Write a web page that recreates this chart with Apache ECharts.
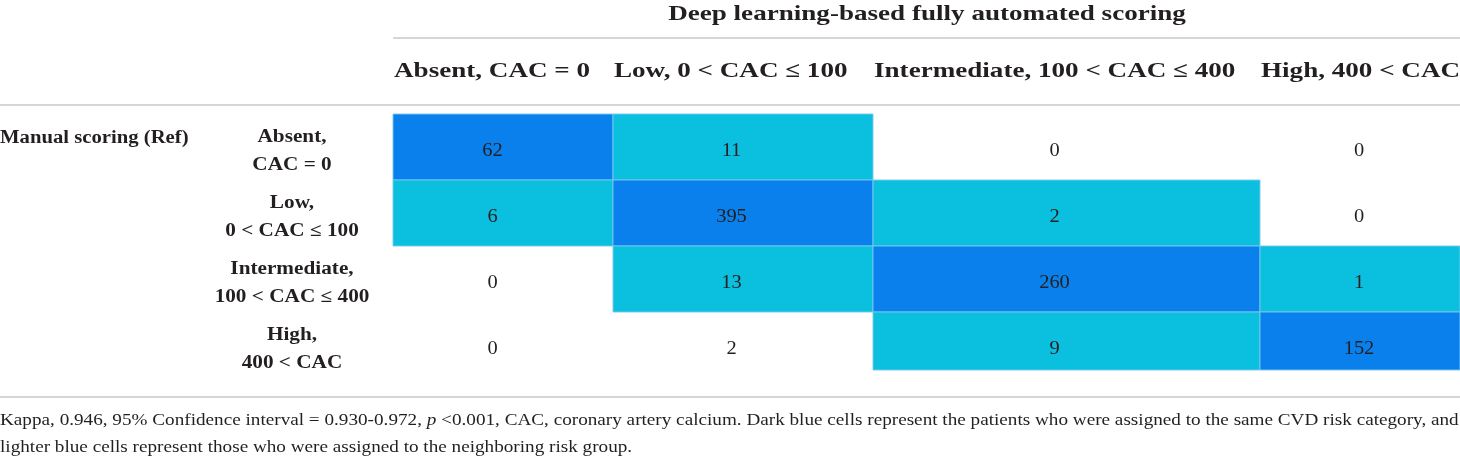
<!DOCTYPE html>
<html><head><meta charset="utf-8">
<script src="https://cdn.jsdelivr.net/npm/echarts@6/dist/echarts.min.js"></script>
<style>html,body{margin:0;padding:0;background:#fff}#c{width:1460px;height:457px}</style>
</head><body><div id="c"></div>
<script>
// ---- data ----
const title = 'Deep learning-based fully automated scoring';
const predCategories = ['Absent, CAC = 0', 'Low, 0 < CAC \u2264 100', 'Intermediate, 100 < CAC \u2264 400', 'High, 400 < CAC'];
const refCategories = ['Absent,\nCAC = 0', 'Low,\n0 < CAC \u2264 100', 'Intermediate,\n100 < CAC \u2264 400', 'High,\n400 < CAC'];
const refTitle = 'Manual scoring (Ref)';
const rowAbsent = [62, 11, 0, 0];
const rowLow = [6, 395, 2, 0];
const rowIntermediate = [0, 13, 260, 1];
const rowHigh = [0, 2, 9, 152];
const footLine1 = ['Kappa, 0.946, 95% Confidence interval = 0.930-0.972, ', 'p', ' <0.001, CAC, coronary artery calcium. Dark blue cells represent the patients who were assigned to the same CVD risk category, and'];
const footLine2 = 'lighter blue cells represent those who were assigned to the neighboring risk group.';

// ---- layout (pixels) ----
const colEdges = [393, 613, 873, 1260, 1460];
const colPadRight = [21, 23, 24, 2];
const rowEdges = [114, 180, 246, 312, 370];
const DARK = '#0a80ec', LIGHT = '#0bbfdf';
const INK = '#231f20';
const FONT = '"Liberation Serif", "DejaVu Serif", serif';

const matrix = [rowAbsent, rowLow, rowIntermediate, rowHigh];
const cells = [];
matrix.forEach((row, r) => row.forEach((v, c) => cells.push([c, r, v])));

const chart = echarts.init(document.getElementById('c'), null, {renderer: 'canvas'});

const graphics = [];
// title
graphics.push({type: 'text', x: 927, y: 14, scaleX: 1.26, style: {text: title, font: 'bold 21.5px ' + FONT, fill: INK, textAlign: 'center', textVerticalAlign: 'middle'}});
// rules
graphics.push({type: 'line', shape: {x1: colEdges[0], y1: 38, x2: 1460, y2: 38}, style: {stroke: '#c8c8c8', lineWidth: 1.5}});
graphics.push({type: 'line', shape: {x1: 0, y1: 105, x2: 1460, y2: 105}, style: {stroke: '#c8c8c8', lineWidth: 1.5}});
graphics.push({type: 'line', shape: {x1: 0, y1: 397, x2: 1460, y2: 397}, style: {stroke: '#c8c8c8', lineWidth: 1.5}});
// column headers
predCategories.forEach((t, i) => {
  graphics.push({type: 'text', x: colEdges[i] + 1, y: 71, scaleX: 1.26, style: {text: t, font: 'bold 21.5px ' + FONT, fill: INK, textAlign: 'left', textVerticalAlign: 'middle'}});
});
// row title
graphics.push({type: 'text', x: 0, y: 138, scaleX: 1.15, style: {text: refTitle, font: 'bold 18px ' + FONT, fill: INK, textAlign: 'left', textVerticalAlign: 'middle'}});
// row labels
refCategories.forEach((t, i) => {
  graphics.push({type: 'text', x: 292, y: rowEdges[i] + 37, scaleX: 1.18, style: {text: t, font: 'bold 18px ' + FONT, fill: INK, textAlign: 'center', textVerticalAlign: 'middle', lineHeight: 28}});
});
// footnote
graphics.push({type: 'text', x: 0, y: 421, scaleX: 1.128, style: {
  rich: {n: {font: '17px ' + FONT, fill: INK}, i: {font: 'italic 17px ' + FONT, fill: INK}},
  text: '{n|' + footLine1[0] + '}{i|' + footLine1[1] + '}{n|' + footLine1[2] + '}',
  textAlign: 'left', textVerticalAlign: 'middle'}});
graphics.push({type: 'text', x: 0, y: 448, scaleX: 1.128, style: {text: footLine2, font: '17px ' + FONT, fill: INK, textAlign: 'left', textVerticalAlign: 'middle'}});

chart.setOption({
  animation: false,
  grid: {left: 0, right: 0, top: 0, bottom: 0},
  xAxis: {type: 'value', min: 0, max: 1460, show: false},
  yAxis: {type: 'value', min: 0, max: 457, inverse: true, show: false},
  graphic: graphics,
  series: [{
    type: 'custom',
    data: cells,
    renderItem: function (params, api) {
      const c = api.value(0), r = api.value(1), v = api.value(2);
      const p0 = api.coord([colEdges[c], rowEdges[r]]);
      const p1 = api.coord([colEdges[c + 1], rowEdges[r + 1]]);
      const tc = api.coord([(colEdges[c] + colEdges[c + 1] - colPadRight[c]) / 2, rowEdges[r] + 37]);
      const d = Math.abs(c - r);
      const fill = d === 0 ? DARK : (d === 1 ? LIGHT : null);
      const children = [];
      if (fill) {
        children.push({type: 'rect', shape: {x: p0[0], y: p0[1], width: p1[0] - p0[0], height: p1[1] - p0[1]},
          style: {fill: fill, stroke: 'rgba(120,200,240,0.9)', lineWidth: 1}});
      }
      children.push({type: 'text', x: tc[0], y: tc[1], scaleX: 1.05, style: {text: String(v), font: '19.5px ' + FONT, fill: INK, textAlign: 'center', textVerticalAlign: 'middle'}});
      return {type: 'group', children: children};
    }
  }]
});
</script></body></html>
